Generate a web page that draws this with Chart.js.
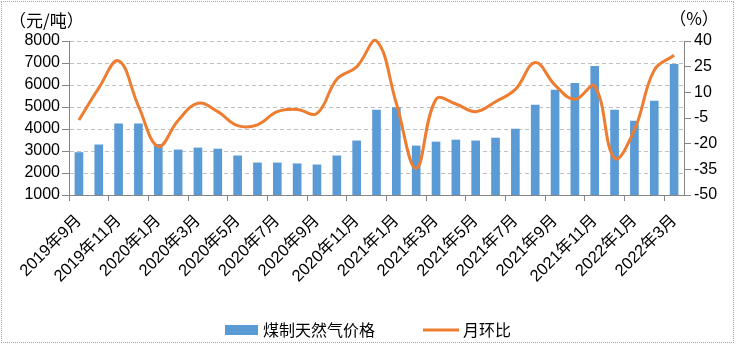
<!DOCTYPE html>
<html>
<head>
<meta charset="utf-8">
<script src="https://cdn.jsdelivr.net/npm/chart.js@4"></script>
<style>
  body { margin: 0; background: #fff; }
  #wrap { position: absolute; left: 0; top: 0; width: 738px; height: 347px; }
  #frame { position: absolute; left: 1px; top: 1px; width: 733px; height: 342px; border: 1px dotted #a6a6a6; box-sizing: border-box; pointer-events: none; }
</style>
</head>
<body>
<div id="wrap">
  <canvas id="gasChart" width="738" height="347"></canvas>
  <div id="frame"></div>
</div>
<script>
/* months */
let months = [
    "2019年9月", "2019年10月", "2019年11月", "2019年12月",
    "2020年1月", "2020年2月", "2020年3月", "2020年4月", "2020年5月", "2020年6月",
    "2020年7月", "2020年8月", "2020年9月", "2020年10月", "2020年11月", "2020年12月",
    "2021年1月", "2021年2月", "2021年3月", "2021年4月", "2021年5月", "2021年6月",
    "2021年7月", "2021年8月", "2021年9月", "2021年10月", "2021年11月", "2021年12月",
    "2022年1月", "2022年2月", "2022年3月"
];

/* price, yuan per tonne */
let prices = [
    2930, 3280, 4230, 4230,
    3300, 3050, 3140, 3090, 2780, 2460,
    2460, 2420, 2370, 2780, 3460, 4860,
    4970, 3230, 3410, 3500, 3460, 3590,
    4000, 5090, 5770, 6080, 6850, 4860,
    4360, 5270, 6940
];

/* month on month, % */
let mom = [
    -6.2, 12.5, 28.4, 2,
    -21.6, -6.5, 3.6, -1.3, -9.5, -9,
    -1.3, 0, -2.3, 17.7, 24.9, 40,
    3.6, -34.3, 5.9, 3.2, -1.3, 4.5,
    11.7, 27.4, 14.2, 5.9, 13.6, -28.5,
    -12, 23, 31.7
];

let leftTicks = [1000, 8000, 1000];   // min, max, step
let rightTicks = [-50, 40, 15];

const BLUE = "#5B9BD5";
const ORANGE = "#ED7D31";
const AXIS = "#868686";
const GRID = "#BFBFBF";
const NUM_FONT = "'Liberation Sans', 'Noto Sans CJK SC', sans-serif";
const CJK_FONT = "'Noto Sans CJK SC', sans-serif";

/* unit captions + legend */
const extras = {
    id: "extras",
    afterDraw(chart) {
        let ctx = chart.ctx;
        ctx.save();
        ctx.fillStyle = "#000";
        ctx.textBaseline = "middle";
        ctx.font = "17px " + CJK_FONT;
        ctx.textAlign = "left";
        ctx.fillText("（元/吨）", 9, 21);
        ctx.textAlign = "center";
        ctx.fillText("（%）", 694, 19);

        // legend
        let ds = chart.data.datasets;
        let y = 330;
        ctx.font = "16px " + CJK_FONT;
        ctx.textAlign = "left";

        ctx.fillStyle = ds[0].backgroundColor;
        ctx.fillRect(225, 325, 33, 10);
        ctx.fillStyle = "#000";
        ctx.fillText(ds[0].label, 263, y);

        ctx.strokeStyle = ds[1].borderColor;
        ctx.lineWidth = 3;
        ctx.beginPath();
        ctx.moveTo(423, y);
        ctx.lineTo(459, y);
        ctx.stroke();
        ctx.fillText(ds[1].label, 463, y);
        ctx.restore();
    }
};

new Chart(document.getElementById("gasChart"), {
    type: "bar",
    data: {
        labels: months,
        datasets: [
            {
                label: "煤制天然气价格",
                data: prices,
                backgroundColor: BLUE,
                barThickness: 8,
                yAxisID: "y",
                order: 2
            },
            {
                type: "line",
                label: "月环比",
                data: mom,
                borderColor: ORANGE,
                borderWidth: 3,
                pointRadius: 0,
                tension: 0.4,
                clip: false,
                yAxisID: "y1",
                order: 1
            }
        ]
    },
    options: {
        responsive: false,
        animation: false,
        devicePixelRatio: 1,
        layout: { padding: { top: 41, left: 0, right: 0, bottom: 0 } },
        plugins: {
            legend: { display: false },
            tooltip: { enabled: false }
        },
        elements: { line: { capBezierPoints: false } },
        scales: {
            x: {
                afterFit: s => { s.height = 152; },
                grid: {
                    offset: true,
                    drawOnChartArea: false,
                    tickLength: 6,
                    color: c => c.index % 2 === 0 ? AXIS : "rgba(0,0,0,0)",
                    tickColor: c => c.index % 2 === 0 ? AXIS : "rgba(0,0,0,0)"
                },
                border: { color: AXIS },
                ticks: {
                    autoSkip: false,
                    maxRotation: 45,
                    minRotation: 45,
                    padding: 10,
                    color: "#000",
                    font: { size: 16.5, family: NUM_FONT },
                    callback: (v, i) => i % 2 === 0 ? months[i] : ""
                }
            },
            y: {
                position: "left",
                min: leftTicks[0],
                max: leftTicks[1],
                afterFit: s => { s.width = 69; },
                grid: {
                    color: c => c.index === 0 ? "rgba(0,0,0,0)" : GRID,
                    tickColor: AXIS,
                    tickLength: 7,
                    tickBorderDash: []
                },
                border: { color: AXIS, dash: [4, 3] },
                ticks: {
                    autoSkip: false,
                    stepSize: leftTicks[2],
                    padding: 2,
                    color: "#000",
                    font: { size: 16, family: NUM_FONT },
                    callback: v => String(v)
                }
            },
            y1: {
                position: "right",
                min: rightTicks[0],
                max: rightTicks[1],
                afterFit: s => { s.width = 54; },
                grid: {
                    drawOnChartArea: false,
                    tickColor: AXIS,
                    tickLength: 7
                },
                border: { color: AXIS },
                ticks: {
                    autoSkip: false,
                    stepSize: rightTicks[2],
                    padding: 3,
                    color: "#000",
                    font: { size: 16, family: NUM_FONT },
                    callback: v => String(v)
                }
            }
        }
    },
    plugins: [extras]
});
</script>
</body>
</html>
